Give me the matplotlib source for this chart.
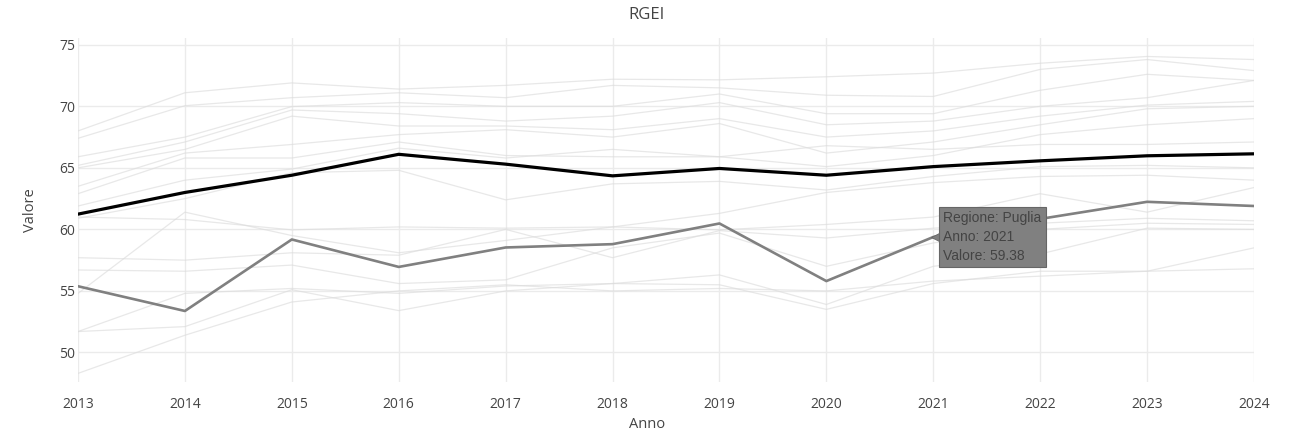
import matplotlib.pyplot as plt
import matplotlib.transforms as mtransforms

plt.rcParams['font.family'] = ['Open Sans', 'DejaVu Sans']

anni = [2013, 2014, 2015, 2016, 2017, 2018, 2019, 2020, 2021, 2022, 2023, 2024]

# altre regioni (linee di sfondo)
altre_regioni = [
    [68.0, 71.1, 71.9, 71.4, 71.7, 72.2, 72.15, 72.4, 72.7, 73.5, 74.05, 73.8],
    [67.4, 70.05, 70.7, 71.1, 70.7, 71.7, 71.5, 70.9, 70.8, 73.0, 73.8, 72.9],
    [65.9, 67.5, 69.98, 70.3, 70.0, 70.0, 71.0, 69.4, 69.4, 71.3, 72.6, 72.1],
    [65.2, 67.1, 69.7, 69.4, 68.8, 69.2, 70.3, 68.5, 68.8, 70.0, 70.7, 72.1],
    [65.0, 66.5, 69.2, 68.4, 68.4, 68.1, 69.0, 67.5, 68.0, 69.2, 70.1, 70.4],
    [63.5, 66.2, 66.9, 67.7, 68.1, 67.5, 68.6, 66.2, 67.1, 68.5, 69.8, 70.0],
    [62.9, 65.8, 65.8, 67.1, 66.0, 65.9, 65.9, 65.1, 66.0, 67.7, 68.5, 69.0],
    [61.9, 64.0, 64.9, 66.6, 65.8, 66.5, 65.9, 66.8, 66.5, 66.9, 66.9, 67.1],
    [60.9, 62.5, 64.6, 64.8, 62.4, 63.7, 63.9, 63.2, 64.3, 65.1, 65.2, 65.0],
    [61.0, 60.8, 59.96, 60.2, 60.1, 60.2, 61.3, 63.0, 63.8, 64.3, 64.4, 64.0],
    [54.8, 61.4, 59.5, 58.1, 59.1, 60.2, 59.96, 60.4, 61.0, 62.9, 61.4, 63.4],
    [57.7, 57.5, 58.1, 57.9, 60.0, 57.7, 59.9, 59.3, 60.1, 60.5, 60.9, 60.7],
    [56.7, 56.6, 57.1, 55.6, 55.9, 58.5, 59.7, 57.0, 58.9, 60.0, 60.5, 60.4],
    [51.7, 54.8, 55.2, 54.8, 55.4, 55.6, 56.3, 53.9, 57.0, 58.0, 60.1, 60.0],
    [51.7, 52.1, 55.1, 53.4, 55.0, 55.6, 55.5, 53.5, 55.6, 56.6, 56.6, 58.5],
    [48.3, 51.4, 54.1, 55.0, 55.5, 55.0, 55.2, 55.0, 55.8, 56.2, 56.6, 56.8],
]

italia = [61.24, 63.0, 64.4, 66.1, 65.3, 64.35, 64.95, 64.4, 65.1, 65.57, 65.98, 66.14]
puglia = [55.38, 53.37, 59.18, 56.95, 58.53, 58.8, 60.48, 55.8, 59.38, 60.85, 62.24, 61.9]

y_ticks = [50, 55, 60, 65, 70, 75]

fig = plt.figure(figsize=(12.94, 4.33), dpi=100)
ax = fig.add_axes([78 / 1294, 1 - 382 / 433, (1254 - 78) / 1294, (382 - 38) / 433])

for serie in altre_regioni:
    ax.plot(anni, serie, color='#dcdcdc', linewidth=0.9, alpha=0.65, zorder=2)

ax.plot(anni, italia, color='black', linewidth=2.3, zorder=4)
ax.plot(anni, puglia, color='#808080', linewidth=1.9, zorder=3)

ax.set_xlim(2013, 2024)
ax.set_ylim(47.6, 75.55)
ax.set_xticks(anni)
ax.set_yticks(y_ticks)
ax.grid(True, color='#ebebeb', linewidth=1, zorder=0)
for s in ax.spines.values():
    s.set_visible(False)
ax.tick_params(length=0, labelsize=10, labelcolor='#444444')
ax.tick_params(axis='x', pad=11)
ax.tick_params(axis='y', pad=2)

fig.text(0.5, 1 - 15 / 433, 'RGEI', ha='center', va='center', fontsize=12, color='#444444')
fig.text(647 / 1294, 1 - 425 / 433, 'Anno', ha='center', va='center', fontsize=10.5, color='#444444')
fig.text(30 / 1294, 1 - 210 / 433, 'Valore', ha='center', va='center', fontsize=10.5,
         color='#444444', rotation=90)

# tooltip
i = anni.index(2021)
tip = mtransforms.offset_copy(ax.transData, fig=fig, x=4, y=0, units='dots')
ax.plot([anni[i]], [puglia[i]], marker='<', markersize=8, color='#808080',
        markeredgecolor='#666666', markeredgewidth=0.6, transform=tip, zorder=6, clip_on=False)
ax.annotate('Regione: Puglia\nAnno: 2021\nValore: %.2f' % puglia[i],
            xy=(anni[i], puglia[i]), xytext=(10, 0), textcoords='offset pixels',
            ha='left', va='center', fontsize=10, color='#444444',
            family=['Liberation Sans', 'DejaVu Sans'], linespacing=1.45,
            bbox=dict(boxstyle='square,pad=0.3', facecolor='#808080', edgecolor='#666666',
                      linewidth=0.8), zorder=7)

fig.savefig('out.png', dpi=100, facecolor='white')
